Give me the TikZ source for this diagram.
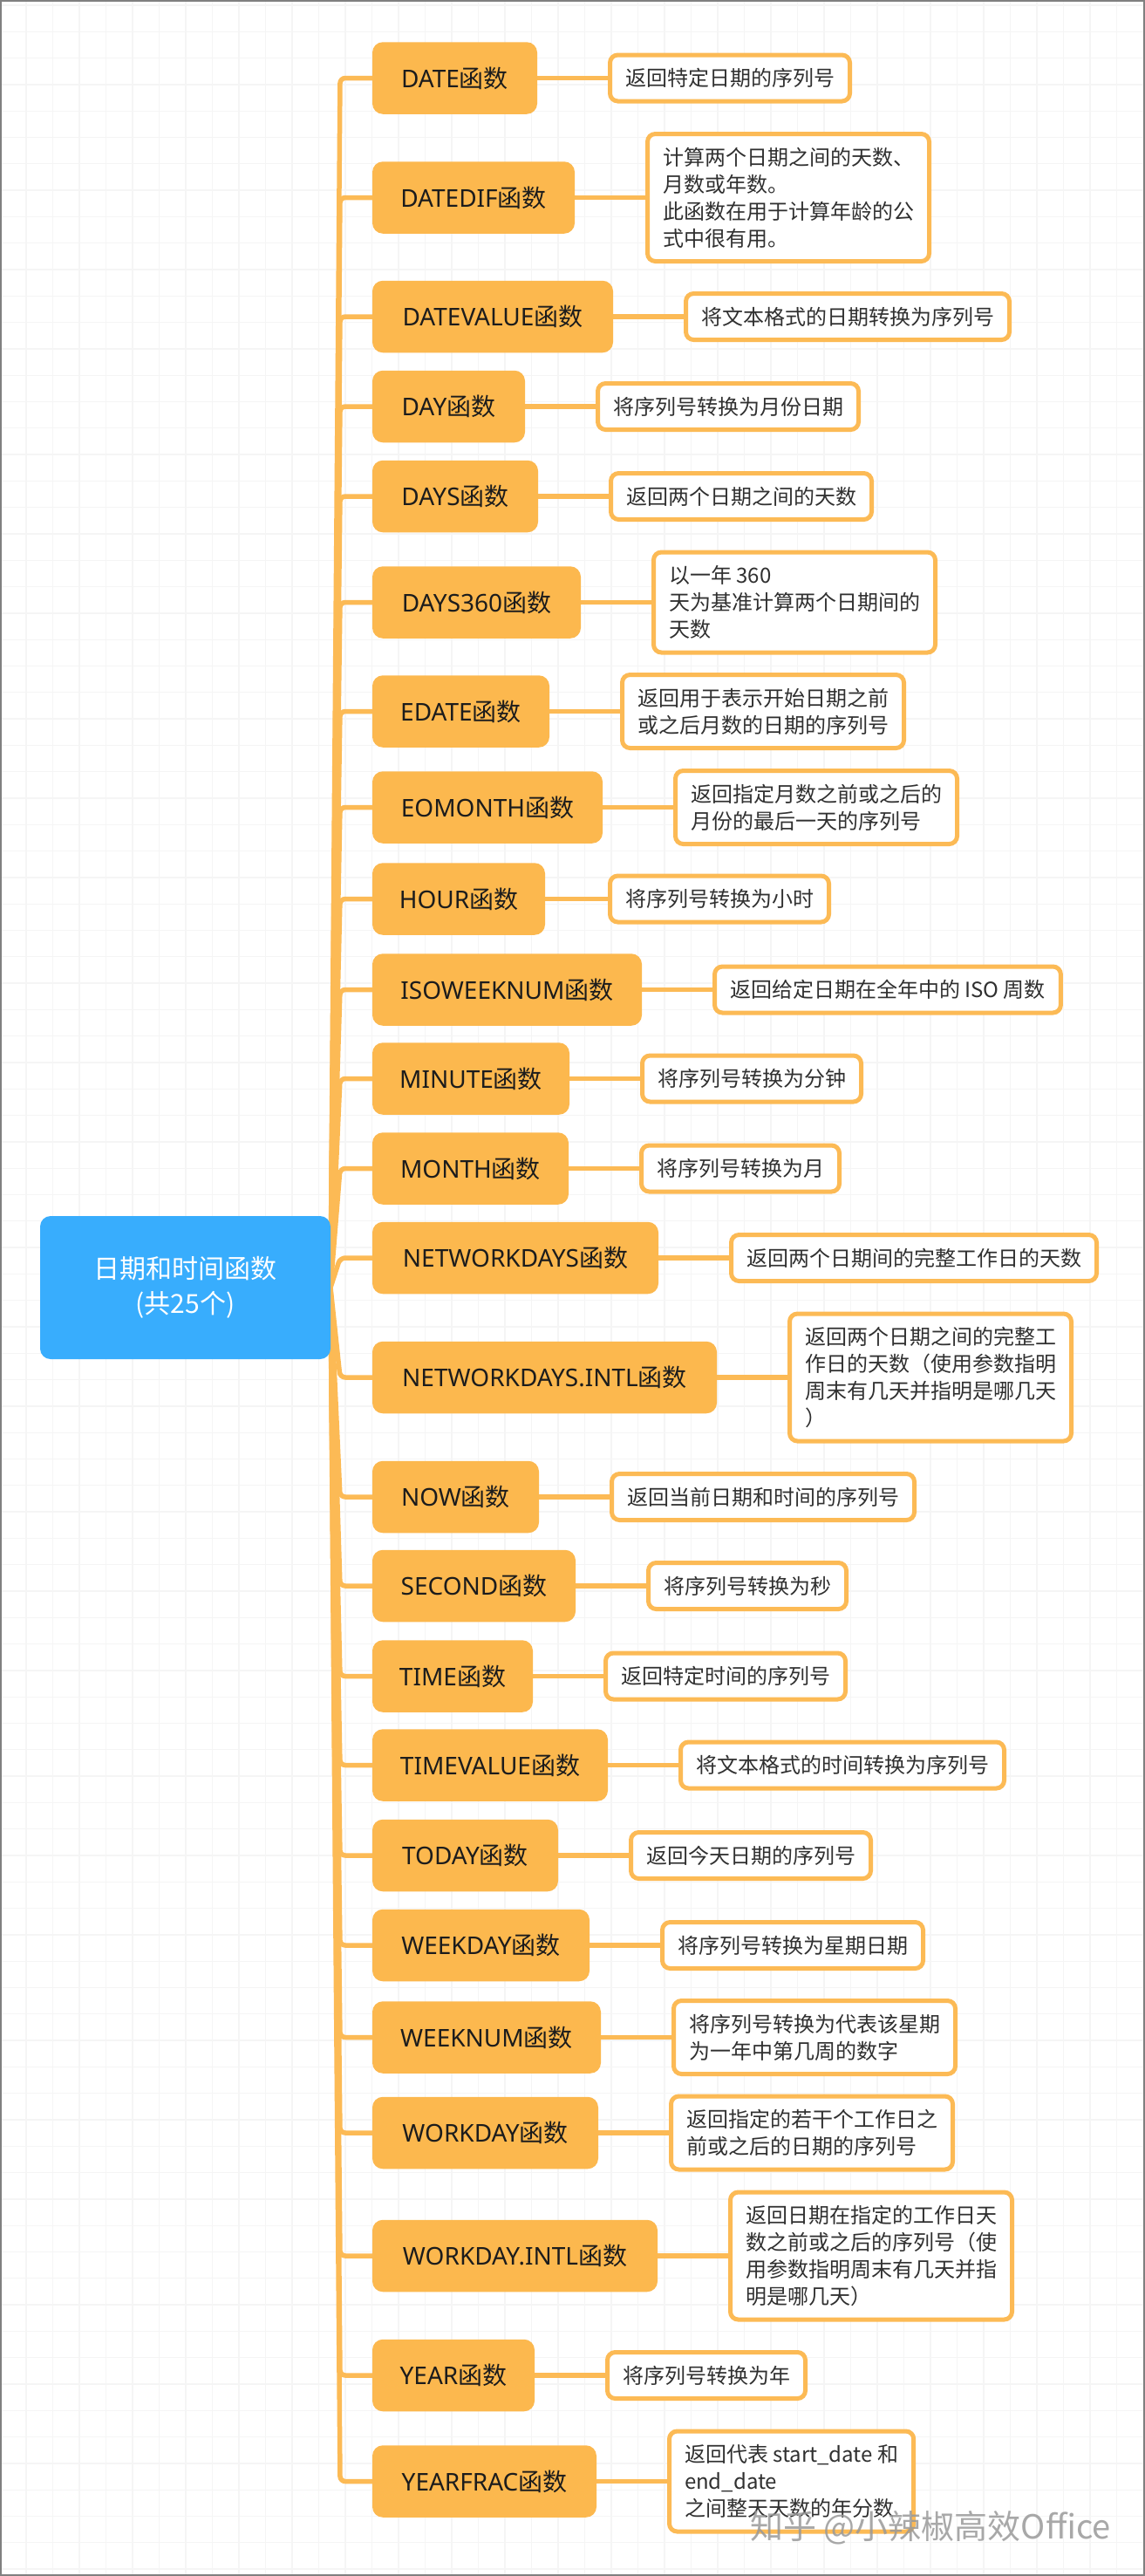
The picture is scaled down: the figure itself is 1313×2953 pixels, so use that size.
\documentclass[tikz,border=0pt]{standalone}
\usepackage{fontspec}
\setmainfont{Noto Sans CJK SC}
\newfontfamily\lat{Noto Sans}
\usetikzlibrary{positioning,calc}
\definecolor{orfill}{HTML}{FCB84E}
\definecolor{orline}{HTML}{FCBA55}
\definecolor{rootblue}{HTML}{38ADFD}
\definecolor{txtdark}{HTML}{1C1C1C}
\definecolor{txtgray}{HTML}{303030}
\definecolor{gridc}{HTML}{F5F5F5}
\pgfdeclarelayer{bg}
\pgfsetlayers{bg,main}
\begin{document}
\begin{tikzpicture}[x=1pt,y=-1pt,
  fnbox/.style={fill=orfill, rounded corners=12pt, minimum height=82.5pt, inner xsep=4pt, outer sep=0pt, font=\fontsize{28}{34}\selectfont, text=txtdark, anchor=west},
  descbox/.style={draw=orline, line width=5pt, fill=white, rounded corners=9pt, inner xsep=17.5pt, inner ysep=4pt, align=left, font=\fontsize{24}{31}\selectfont, text=txtgray},
  rootbox/.style={fill=rootblue, rounded corners=12pt, outer sep=0pt, align=center, text=white, font=\fontsize{30}{40}\selectfont},
  connline/.style={draw=orline, line width=5.5pt},
  gridline/.style={draw=gridc, line width=1.3pt},
  one/.style={minimum height=53pt},
  two/.style={minimum height=84pt},
  three/.style={minimum height=115pt},
  four/.style={minimum height=146pt}
]
\useasboundingbox (0,0) rectangle (1313,2953);
\coordinate (trunk) at (390,0);

\node[rootbox, minimum width=333pt, minimum height=164pt] (root) at (212.5,1476) {日期和时间函数\\(共25个)};

\node[fnbox, minimum width=189pt] (o1) at (427,89.5) {{\lat DATE}函数};
\node[fnbox, minimum width=232pt] (o2) at (427,226.5) {{\lat DATEDIF}函数};
\node[fnbox, minimum width=276pt] (o3) at (427,363) {{\lat DATEVALUE}函数};
\node[fnbox, minimum width=175pt] (o4) at (427,466) {{\lat DAY}函数};
\node[fnbox, minimum width=190pt] (o5) at (427,569) {{\lat DAYS}函数};
\node[fnbox, minimum width=239pt] (o6) at (427,690.5) {{\lat DAYS360}函数};
\node[fnbox, minimum width=203pt] (o7) at (427,815.5) {{\lat EDATE}函数};
\node[fnbox, minimum width=264pt] (o8) at (427,925.5) {{\lat EOMONTH}函数};
\node[fnbox, minimum width=198pt] (o9) at (427,1030.5) {{\lat HOUR}函数};
\node[fnbox, minimum width=309pt] (o10) at (427,1134.5) {{\lat ISOWEEKNUM}函数};
\node[fnbox, minimum width=226pt] (o11) at (427,1236.5) {{\lat MINUTE}函数};
\node[fnbox, minimum width=225pt] (o12) at (427,1339.5) {{\lat MONTH}函数};
\node[fnbox, minimum width=328pt] (o13) at (427,1442) {{\lat NETWORKDAYS}函数};
\node[fnbox, minimum width=395pt] (o14) at (427,1579) {{\lat NETWORKDAYS.INTL}函数};
\node[fnbox, minimum width=191pt] (o15) at (427,1716) {{\lat NOW}函数};
\node[fnbox, minimum width=233pt] (o16) at (427,1818) {{\lat SECOND}函数};
\node[fnbox, minimum width=184pt] (o17) at (427,1921.5) {{\lat TIME}函数};
\node[fnbox, minimum width=270pt] (o18) at (427,2023.5) {{\lat TIMEVALUE}函数};
\node[fnbox, minimum width=213pt] (o19) at (427,2127) {{\lat TODAY}函数};
\node[fnbox, minimum width=249pt] (o20) at (427,2230) {{\lat WEEKDAY}函数};
\node[fnbox, minimum width=262pt] (o21) at (427,2335.5) {{\lat WEEKNUM}函数};
\node[fnbox, minimum width=259pt] (o22) at (427,2445) {{\lat WORKDAY}函数};
\node[fnbox, minimum width=327pt] (o23) at (427,2586) {{\lat WORKDAY.INTL}函数};
\node[fnbox, minimum width=186pt] (o24) at (427,2723) {{\lat YEAR}函数};
\node[fnbox, minimum width=257pt] (o25) at (427,2844.5) {{\lat YEARFRAC}函数};

\node[descbox, one, right=81pt of o1] (d1) {返回特定日期的序列号};
\node[descbox, four, right=81pt of o2] (d2) {计算两个日期之间的天数、\\月数或年数。\\此函数在用于计算年龄的公\\式中很有用。};
\node[descbox, one, right=81pt of o3] (d3) {将文本格式的日期转换为序列号};
\node[descbox, one, right=81pt of o4] (d4) {将序列号转换为月份日期};
\node[descbox, one, right=81pt of o5] (d5) {返回两个日期之间的天数};
\node[descbox, three, right=81pt of o6] (d6) {以一年 360\\天为基准计算两个日期间的\\天数};
\node[descbox, two, right=81pt of o7] (d7) {返回用于表示开始日期之前\\或之后月数的日期的序列号};
\node[descbox, two, right=81pt of o8] (d8) {返回指定月数之前或之后的\\月份的最后一天的序列号};
\node[descbox, one, right=72pt of o9] (d9) {将序列号转换为小时};
\node[descbox, one, right=81pt of o10] (d10) {返回给定日期在全年中的 ISO 周数};
\node[descbox, one, right=81pt of o11] (d11) {将序列号转换为分钟};
\node[descbox, one, right=81pt of o12] (d12) {将序列号转换为月};
\node[descbox, one, right=81pt of o13] (d13) {返回两个日期间的完整工作日的天数};
\node[descbox, four, right=81pt of o14] (d14) {返回两个日期之间的完整工\\作日的天数（使用参数指明\\周末有几天并指明是哪几天\\）};
\node[descbox, one, right=81pt of o15] (d15) {返回当前日期和时间的序列号};
\node[descbox, one, right=81pt of o16] (d16) {将序列号转换为秒};
\node[descbox, one, right=81pt of o17] (d17) {返回特定时间的序列号};
\node[descbox, one, right=81pt of o18] (d18) {将文本格式的时间转换为序列号};
\node[descbox, one, right=81pt of o19] (d19) {返回今天日期的序列号};
\node[descbox, one, right=81pt of o20] (d20) {将序列号转换为星期日期};
\node[descbox, two, right=81pt of o21] (d21) {将序列号转换为代表该星期\\为一年中第几周的数字};
\node[descbox, two, right=81pt of o22] (d22) {返回指定的若干个工作日之\\前或之后的日期的序列号};
\node[descbox, four, right=81pt of o23] (d23) {返回日期在指定的工作日天\\数之前或之后的序列号（使\\用参数指明周末有几天并指\\明是哪几天）};
\node[descbox, one, right=81pt of o24] (d24) {将序列号转换为年};
\node[descbox, three, right=81pt of o25] (d25) {返回代表 start\_date 和\\end\_date\\之间整天天数的年分数};

\node[text=black!40, opacity=0.85, font=\fontsize{38}{44}\selectfont] (wm) at (1067,2898) {知乎 @小辣椒高效Office};

\begin{pgfonlayer}{bg}
  \fill[white] (0,0) rectangle (1313,2953);
  \foreach \i in {1,...,43} { \draw[gridline] ({\i*30.5-0.5},0) -- ({\i*30.5-0.5},2953); }
  \foreach \j in {0,...,97} { \draw[gridline] (0,{6+\j*30.3}) -- (1313,{6+\j*30.3}); }
  \foreach \i in {1,...,25} {
    \draw[connline, rounded corners=6pt] (root.east) -- (trunk |- o\i.west) -- (o\i.west);
    \draw[connline] (o\i.east) -- (d\i.west);
  }
\end{pgfonlayer}
\draw[black!50, line width=2pt] (1,1) rectangle (1312,2952);
\end{tikzpicture}
\end{document}
